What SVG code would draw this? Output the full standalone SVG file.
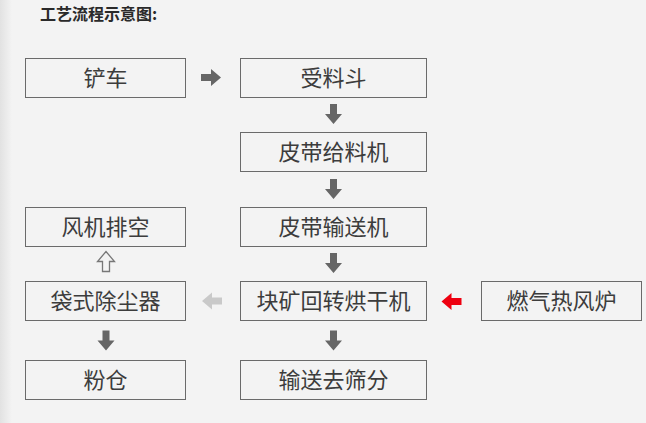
<svg xmlns="http://www.w3.org/2000/svg" width="646" height="423" viewBox="0 0 646 423">
<defs>
<linearGradient id="edge" x1="0" y1="0" x2="1" y2="0">
<stop offset="0" stop-color="#e2e2e2"/>
<stop offset="1" stop-color="#f3f3f3"/>
</linearGradient>
<path id="arr" d="M-3.5,-10 L3.5,-10 L3.5,0 L8.5,0 L0,10 L-8.5,0 L-3.5,0 Z"/>
</defs>
<style>
.box{fill:none;stroke:#6a6a6a;stroke-width:1}
.lbl{font-family:"Noto Sans CJK SC","Noto Sans",sans-serif;font-size:22px;fill:#3c3c3c;text-anchor:middle}
.title{font-family:"Noto Sans CJK SC","Noto Sans",sans-serif;font-size:16px;font-weight:bold;fill:#2a2a2a}
.dk{fill:#666666}
</style>
<rect width="646" height="423" fill="#f3f3f3"/>
<rect width="12" height="423" fill="url(#edge)"/>
<text class="title" x="40" y="19.5">工艺流程示意图:</text>
<g id="n1"><rect class="box" x="25.5" y="58.5" width="160" height="39"/><text class="lbl" x="105.5" y="86">铲车</text></g>
<g id="n2"><rect class="box" x="240.5" y="58.5" width="186" height="39"/><text class="lbl" x="333.5" y="86">受料斗</text></g>
<g id="n3"><rect class="box" x="240.5" y="132.5" width="186" height="39"/><text class="lbl" x="333.5" y="160">皮带给料机</text></g>
<g id="n4"><rect class="box" x="240.5" y="207.5" width="186" height="39"/><text class="lbl" x="333.5" y="235">皮带输送机</text></g>
<g id="n5"><rect class="box" x="240.5" y="281.5" width="186" height="39"/><text class="lbl" x="333.5" y="309">块矿回转烘干机</text></g>
<g id="n6"><rect class="box" x="240.5" y="360.5" width="186" height="39"/><text class="lbl" x="333.5" y="388">输送去筛分</text></g>
<g id="n7"><rect class="box" x="481.5" y="281.5" width="160" height="39"/><text class="lbl" x="561.5" y="309">燃气热风炉</text></g>
<g id="n8"><rect class="box" x="25.5" y="207.5" width="160" height="39"/><text class="lbl" x="105.5" y="235">风机排空</text></g>
<g id="n9"><rect class="box" x="25.5" y="281.5" width="160" height="39"/><text class="lbl" x="105.5" y="309">袋式除尘器</text></g>
<g id="n10"><rect class="box" x="25.5" y="360.5" width="160" height="39"/><text class="lbl" x="105.5" y="388">粉仓</text></g>
<g id="connectors">
<use href="#arr" class="dk" transform="translate(211,77.5) rotate(-90)"/>
<use href="#arr" class="dk" transform="translate(333.5,114)"/>
<use href="#arr" class="dk" transform="translate(333.5,189)"/>
<use href="#arr" class="dk" transform="translate(333.5,263)"/>
<use href="#arr" class="dk" transform="translate(333.5,340.5)"/>
<use href="#arr" fill="#ee0010" transform="translate(451.5,301.5) rotate(90)"/>
<use href="#arr" fill="#c9c9c9" transform="translate(212,301) rotate(90)"/>
<use href="#arr" class="dk" transform="translate(106,340.5)"/>
<use href="#arr" fill="none" stroke="#777777" stroke-width="1.3" transform="translate(106,261.5) rotate(180)"/>
</g>
</svg>
